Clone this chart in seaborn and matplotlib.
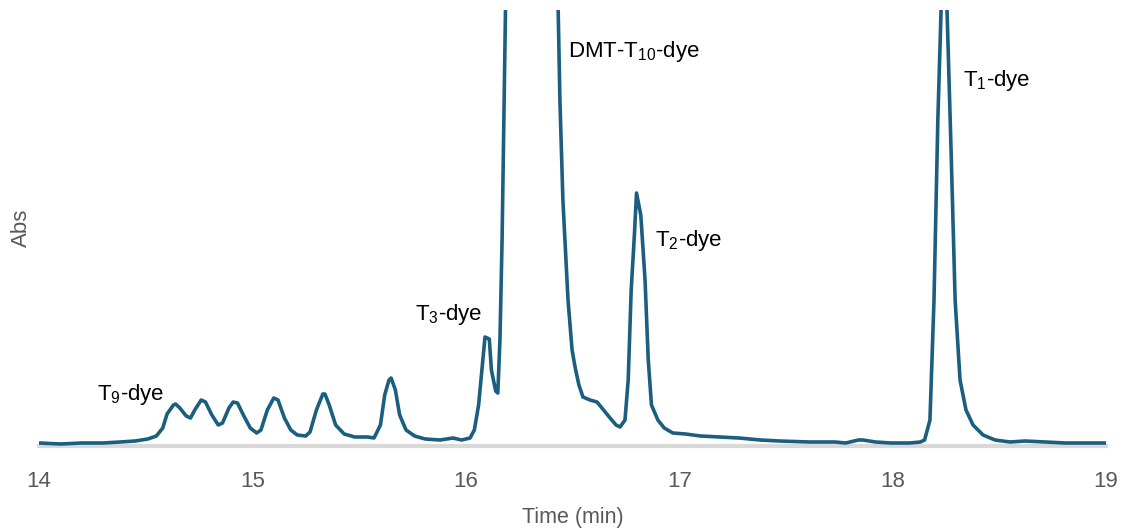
import matplotlib
matplotlib.use("Agg")
import matplotlib.pyplot as plt
import seaborn as sns
import pandas as pd

# Retention time (min) and absorbance (arbitrary units)
time_min = [14.00, 14.10, 14.20, 14.30, 14.38, 14.45, 14.51, 14.55, 14.58, 14.60,
            14.63, 14.64, 14.66, 14.69, 14.71, 14.73, 14.76, 14.78, 14.81, 14.84,
            14.86, 14.89, 14.91, 14.93, 14.96, 14.99, 15.02, 15.04, 15.07, 15.10,
            15.12, 15.15, 15.18, 15.21, 15.25, 15.27, 15.30, 15.33, 15.34, 15.36,
            15.39, 15.43, 15.48, 15.54, 15.57, 15.60, 15.62, 15.64, 15.65, 15.67,
            15.69, 15.72, 15.76, 15.81, 15.88, 15.94, 15.98, 16.02, 16.04, 16.06,
            16.08, 16.09, 16.11, 16.12, 16.14, 16.15, 16.16, 16.17, 16.18, 16.19,
            16.31, 16.418, 16.441, 16.455, 16.479, 16.498, 16.512, 16.53, 16.549, 16.582,
            16.615, 16.638, 16.676, 16.704, 16.723, 16.746, 16.761, 16.775, 16.79, 16.80,
            16.82, 16.84, 16.855, 16.87, 16.90, 16.93, 16.97, 17.03, 17.10, 17.19,
            17.28, 17.38, 17.47, 17.61, 17.73, 17.78, 17.84, 17.86, 17.92, 17.99,
            18.08, 18.13, 18.15, 18.175, 18.194, 18.212, 18.227, 18.24, 18.255, 18.274,
            18.293, 18.316, 18.344, 18.377, 18.424, 18.48, 18.55, 18.62, 18.71, 18.81,
            18.90, 19.00]
absorbance = [3, 2, 3, 3, 4, 5, 7, 10, 18, 32,
              41, 42, 38, 30, 28, 36, 46, 44, 31, 21,
              23, 38, 44, 43, 30, 18, 13, 16, 36, 48,
              46, 28, 16, 11, 10, 14, 36, 52, 52, 41,
              21, 12, 9, 9, 8, 21, 51, 66, 68, 56,
              31, 16, 10, 7, 6, 8, 6, 8, 16, 41,
              86, 109, 107, 76, 55, 53, 106, 206, 346, 496,
              1500, 600, 346, 246, 146, 96, 79, 61, 49, 46,
              44, 38, 28, 21, 19, 26, 66, 156, 211, 253,
              231, 166, 86, 41, 26, 18, 13, 12, 10, 9,
              8, 6, 5, 4, 4, 3, 6, 6, 4, 3,
              3, 4, 6, 26, 146, 326, 436, 520, 436, 296,
              146, 66, 36, 21, 11, 6, 4, 5, 4, 3,
              3, 3]

peak_labels = ["T$_\\mathregular{9}$-dye", "T$_\\mathregular{3}$-dye",
               "DMT-T$_\\mathregular{10}$-dye", "T$_\\mathregular{2}$-dye",
               "T$_\\mathregular{1}$-dye"]
label_time = [14.27, 15.762, 16.479, 16.887, 18.33]
label_abs = [46, 126, 389, 200, 360]

x_ticks = [14, 15, 16, 17, 18, 19]

df = pd.DataFrame({"Time (min)": time_min, "Abs": absorbance})

sns.set_theme(style="white")
plt.rcParams["font.family"] = ["Liberation Sans", "DejaVu Sans"]

fig = plt.figure(figsize=(11.21, 5.29), dpi=100)
ax = fig.add_axes([39 / 1121, 83 / 529, (1106 - 39) / 1121, (446 - 10) / 529])

sns.lineplot(data=df, x="Time (min)", y="Abs", ax=ax, color="#1b5e80",
             linewidth=2.6, sort=False, zorder=3)

ax.set_xlim(14, 19)
ax.set_ylim(0, 436)
ax.set_xticks(x_ticks)
ax.set_xticklabels([str(t) for t in x_ticks])
ax.set_yticks([])
ax.tick_params(axis="x", length=0, pad=18, labelsize=16, labelcolor="#595959")

for s in ["top", "right", "left"]:
    ax.spines[s].set_visible(False)
ax.spines["bottom"].set_color("#d9d9d9")
ax.spines["bottom"].set_linewidth(3)
ax.spines["bottom"].set_zorder(1)

ax.set_xlabel("Time (min)", fontsize=15.5, color="#595959", labelpad=11)
ax.set_ylabel("Abs", fontsize=16, color="#595959", labelpad=5)

for txt, tx, ty in zip(peak_labels, label_time, label_abs):
    ax.text(tx, ty, txt, fontsize=16, color="black", ha="left",
            va="baseline", zorder=4)

fig.savefig("out.png", dpi=100)
